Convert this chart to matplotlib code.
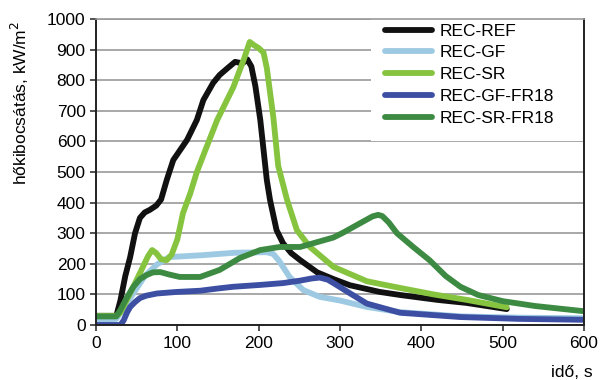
import matplotlib.pyplot as plt
from matplotlib.patches import Rectangle

plt.rcParams['font.family'] = ['Liberation Sans', 'DejaVu Sans']

# time (s) / heat release rate (kW/m2)
t_ref = [0, 25, 30, 36, 42, 48, 54, 60, 66, 74, 80, 87, 95, 112, 124, 132, 144, 152, 162, 171, 180, 186, 191, 196, 202, 210, 214, 222, 230, 240, 251, 272, 292, 312, 349, 374, 420, 456, 505]
v_ref = [30, 30, 80, 160, 222, 300, 350, 368, 376, 390, 410, 474, 539, 605, 670, 735, 791, 817, 840, 860, 855, 868, 845, 780, 670, 474, 408, 310, 267, 235, 212, 172, 150, 130, 108, 98, 82, 72, 52]

t_gf = [0, 25, 35, 45, 60, 75, 90, 130, 170, 210, 218, 225, 238, 255, 275, 300, 333, 374, 450, 520, 600]
v_gf = [12, 20, 60, 100, 160, 198, 222, 228, 236, 238, 232, 210, 157, 114, 92, 80, 59, 42, 28, 24, 22]

t_sr = [0, 25, 30, 45, 55, 64, 69, 74, 80, 87, 93, 100, 107, 116, 124, 136, 149, 169, 182, 189, 194, 200, 206, 210, 214, 218, 224, 235, 247, 263, 292, 333, 374, 415, 456, 505]
v_sr = [30, 30, 40, 120, 175, 225, 245, 235, 215, 212, 230, 280, 366, 431, 500, 582, 670, 778, 870, 925, 915, 905, 890, 840, 760, 680, 520, 408, 310, 255, 190, 143, 121, 100, 82, 58]

t_gffr = [0, 30, 34, 38, 42, 48, 54, 62, 75, 99, 128, 152, 169, 202, 230, 251, 265, 275, 285, 292, 312, 333, 374, 448, 520, 600]
v_gffr = [0, 0, 15, 40, 59, 75, 88, 96, 103, 108, 112, 120, 125, 131, 137, 145, 152, 155, 148, 137, 104, 70, 40, 26, 20, 17]

t_srfr = [0, 25, 30, 38, 46, 54, 62, 70, 79, 90, 103, 128, 152, 177, 202, 226, 251, 292, 304, 325, 340, 347, 352, 360, 370, 390, 410, 430, 448, 470, 500, 540, 600]
v_srfr = [28, 28, 49, 90, 125, 150, 163, 172, 173, 165, 157, 157, 180, 219, 245, 255, 255, 286, 302, 333, 355, 360, 356, 335, 300, 255, 212, 160, 125, 98, 78, 62, 45]

labels = ['REC-REF', 'REC-GF', 'REC-SR', 'REC-GF-FR18', 'REC-SR-FR18']
colors = ['#111111', '#9dcae2', '#86c440', '#3d4fa3', '#3d8a42']

fig = plt.figure(figsize=(6.03, 3.8), dpi=100)
ax = fig.add_axes([96 / 603, 55 / 380, 488 / 603, 306 / 380])

series = [(t_ref, v_ref), (t_gf, v_gf), (t_sr, v_sr), (t_gffr, v_gffr), (t_srfr, v_srfr)]
for (t, v), lab, c in zip(series, labels, colors):
    ax.plot(t, v, color=c, lw=4.2, label=lab, solid_capstyle='round', solid_joinstyle='round')

ax.set_xlim(0, 600)
ax.set_ylim(0, 1000)
ax.set_xticks(range(0, 601, 100))
ax.set_yticks(range(0, 1001, 100))
ax.set_axisbelow(True)
ax.yaxis.grid(True, color='#9a9a9a', lw=1.2)
ax.tick_params(labelsize=12.5, length=4, width=1.2, color='#333333')
ax.tick_params(axis='x', pad=4)

for s in ['left', 'bottom', 'right']:
    ax.spines[s].set_color('#222222')
    ax.spines[s].set_linewidth(1.4)
ax.spines['top'].set_color('#9a9a9a')
ax.spines['top'].set_linewidth(1.2)

# white box behind the legend
ax.add_patch(Rectangle((0.5635, 0.601), 0.4365, 0.399, transform=ax.transAxes,
                       facecolor='white', edgecolor='none', zorder=1))

ax.legend(loc='upper left', bbox_to_anchor=(0.592, 0.985), frameon=False,
          fontsize=12.5, handlelength=2.7, handletextpad=0.45, labelspacing=0.38,
          borderpad=0, borderaxespad=0)

fig.text(0.033, 0.73, 'hőkibocsátás, kW/m$^2$', rotation=90, fontsize=12.5,
         ha='center', va='center')
fig.text(0.982, 0.021, 'idő, s', fontsize=12.5, ha='right', va='center')

fig.savefig('out.png', dpi=100)
